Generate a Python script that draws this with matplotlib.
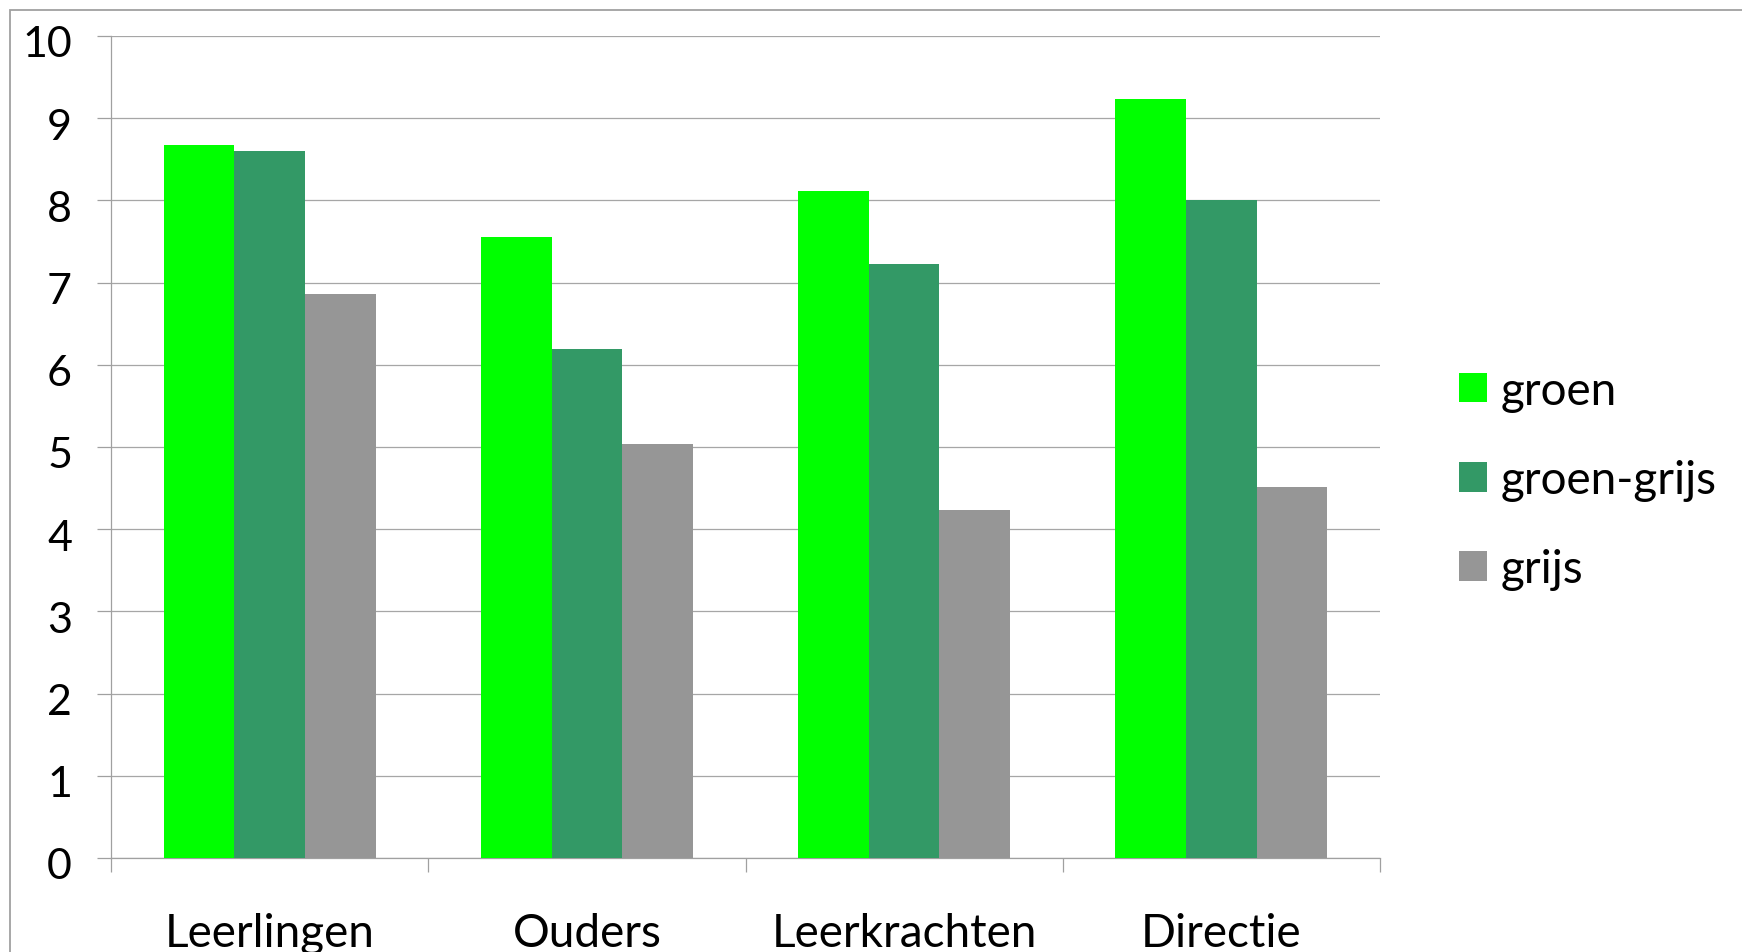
import matplotlib
matplotlib.use("Agg")
import matplotlib.pyplot as plt
from matplotlib.patches import Rectangle
from matplotlib.ticker import FixedLocator
from matplotlib.transforms import ScaledTranslation
import numpy as np

categories = ["Leerlingen", "Ouders", "Leerkrachten", "Directie"]
series_names = ["groen", "groen-grijs", "grijs"]
groen = [8.68, 7.55, 8.12, 9.23]
groen_grijs = [8.60, 6.19, 7.23, 8.00]
grijs = [6.86, 5.04, 4.23, 4.51]
y_ticks = [0, 1, 2, 3, 4, 5, 6, 7, 8, 9, 10]

colors = ["#00FF00", "#339966", "#969696"]
values = [groen, groen_grijs, grijs]

plt.rcParams['font.family'] = ['Lato', 'DejaVu Sans']

W, H = 1742, 953
dpi = 100
fig = plt.figure(figsize=(W / dpi, H / dpi), dpi=dpi)
fig.patch.set_facecolor("white")

# outer frame of the figure (only top and left visible)
fig.patches.append(Rectangle((10 / W, -0.1), 2.0, 1 - 10.5 / H + 0.1,
                             transform=fig.transFigure, fill=False,
                             edgecolor="#A0A0A0", linewidth=1.3))

ax = fig.add_axes([111 / W, 1 - 859 / H, (1380 - 111) / W, (859 - 37) / H])

x = np.arange(len(categories))
bw = 0.223
for i, (name, vals, c) in enumerate(zip(series_names, values, colors)):
    ax.bar(x + (i - 1) * bw, vals, width=bw, color=c, label=name,
           linewidth=0, zorder=3)

ax.set_xlim(-0.5, len(categories) - 0.5)
ax.set_ylim(0, 10)
ax.set_yticks(y_ticks)
ax.set_yticklabels([str(t) for t in y_ticks])
ax.yaxis.grid(True, color="#A6A6A6", linewidth=0.9, zorder=0)
ax.set_axisbelow(True)

ax.set_xticks(x)
ax.set_xticklabels(categories)
ax.xaxis.set_minor_locator(FixedLocator(np.arange(-0.5, len(categories), 1.0)))
ax.tick_params(axis="x", which="major", length=0, pad=39, labelsize=33)
ax.tick_params(axis="x", which="minor", length=10, width=0.9, color="#A0A0A0")
ax.tick_params(axis="y", which="major", length=10, width=0.9, color="#A0A0A0",
               pad=18, labelsize=31)

shift = ScaledTranslation(0, -3.5 / 72, fig.dpi_scale_trans)
for lbl in ax.get_yticklabels():
    lbl.set_transform(lbl.get_transform() + shift)

for s in ["top", "right"]:
    ax.spines[s].set_visible(False)
for s in ["left", "bottom"]:
    ax.spines[s].set_color("#A0A0A0")
    ax.spines[s].set_linewidth(0.9)

leg = fig.legend(loc="center left", bbox_to_anchor=(1459 / W, 1 - 481 / H),
                 frameon=False, fontsize=33, handlelength=0.61,
                 handleheight=0.61, handletextpad=0.3, labelspacing=1.03,
                 borderaxespad=0, borderpad=0)

fig.savefig("out.png", dpi=dpi, facecolor="white")
